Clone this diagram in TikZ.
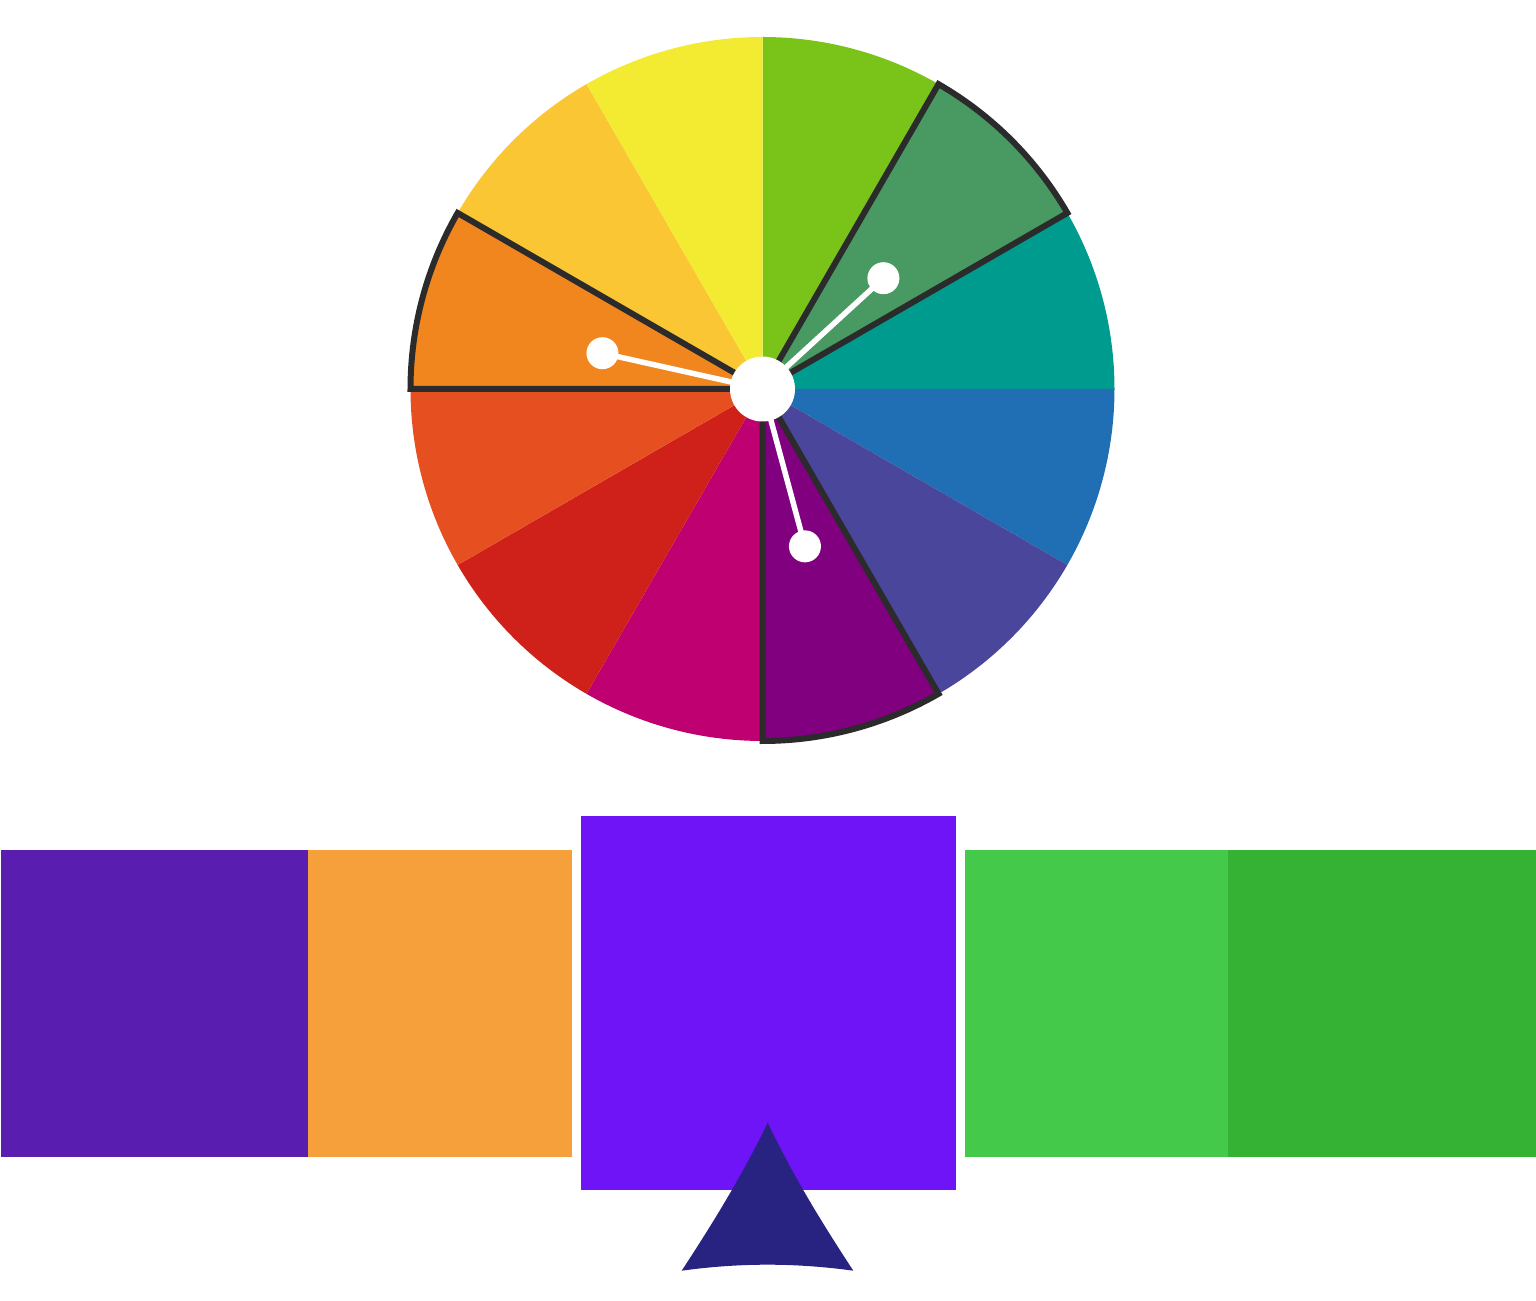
\documentclass[tikz,border=0pt]{standalone}
\usepackage{tikz}

\definecolor{wheelA}{RGB}{122,196,26}
\definecolor{wheelB}{RGB}{72,153,98}
\definecolor{wheelC}{RGB}{0,155,143}
\definecolor{wheelD}{RGB}{32,110,180}
\definecolor{wheelE}{RGB}{74,70,156}
\definecolor{wheelF}{RGB}{128,0,128}
\definecolor{wheelG}{RGB}{191,0,112}
\definecolor{wheelH}{RGB}{208,32,26}
\definecolor{wheelI}{RGB}{230,80,32}
\definecolor{wheelJ}{RGB}{242,134,30}
\definecolor{wheelK}{RGB}{250,198,52}
\definecolor{wheelL}{RGB}{242,235,50}
\definecolor{edge}{RGB}{43,43,43}
\definecolor{swatchPurple}{RGB}{89,30,176}
\definecolor{swatchOrange}{RGB}{245,160,58}
\definecolor{swatchMain}{RGB}{111,20,246}
\definecolor{swatchLight}{RGB}{68,201,74}
\definecolor{swatchDark}{RGB}{53,177,51}
\definecolor{marker}{RGB}{40,34,128}

\tikzset{
    picked/.style = {draw = edge, line width = 0.12cm, line join = miter},
    pointer/.style = {draw = white, line width = 0.11cm}
}

\begin{document}
\begin{tikzpicture}[x = 0.02cm, y = 0.02cm]
            \useasboundingbox (0,0) rectangle (1536,1301);
            \coordinate (hub) at (762.5,912);
            % wheel
            \foreach \col [count = \i] in {wheelA, wheelB, wheelC, wheelD, wheelE, wheelF, wheelG, wheelH, wheelI, wheelJ, wheelK, wheelL}
                \fill[\col] (hub) -- ++({90 - 30*\i}:352) arc[start angle = {90 - 30*\i}, end angle = {120 - 30*\i}, radius = 352] -- cycle;
            % triad
            \foreach \a in {30, -90, 150}
                \draw[picked] (hub) -- ++(\a:352) arc[start angle = \a, end angle = \a + 30, radius = 352] -- cycle;
            \path (hub) ++(42.5:164) coordinate (dotG);
            \path (hub) ++(167.4:164) coordinate (dotO);
            \path (hub) ++(-74.9:163) coordinate (dotP);
            \foreach \d in {dotG, dotO, dotP} {
                \draw[pointer] (hub) -- (\d);
                \fill[white] (\d) circle[radius = 16];
            }
            \fill[white] (hub) circle[radius = 32.5];
            % swatches
            \fill[swatchPurple] (1,144) rectangle (308,451);
            \fill[swatchOrange] (308,144) rectangle (571.5,451);
            \fill[swatchMain] (581,111) rectangle (955.5,485);
            \fill[swatchLight] (964.5,144) rectangle (1228,451);
            \fill[swatchDark] (1228,144) rectangle (1536,451);
            \fill[marker] (767.7,178.3) .. controls (743,127) and (713,78) .. (681.7,30.3)
                .. controls (740,38.3) and (795,38.3) .. (853.3,30.3)
                .. controls (822,78) and (792,127) .. cycle;
        \end{tikzpicture}
\end{document}
